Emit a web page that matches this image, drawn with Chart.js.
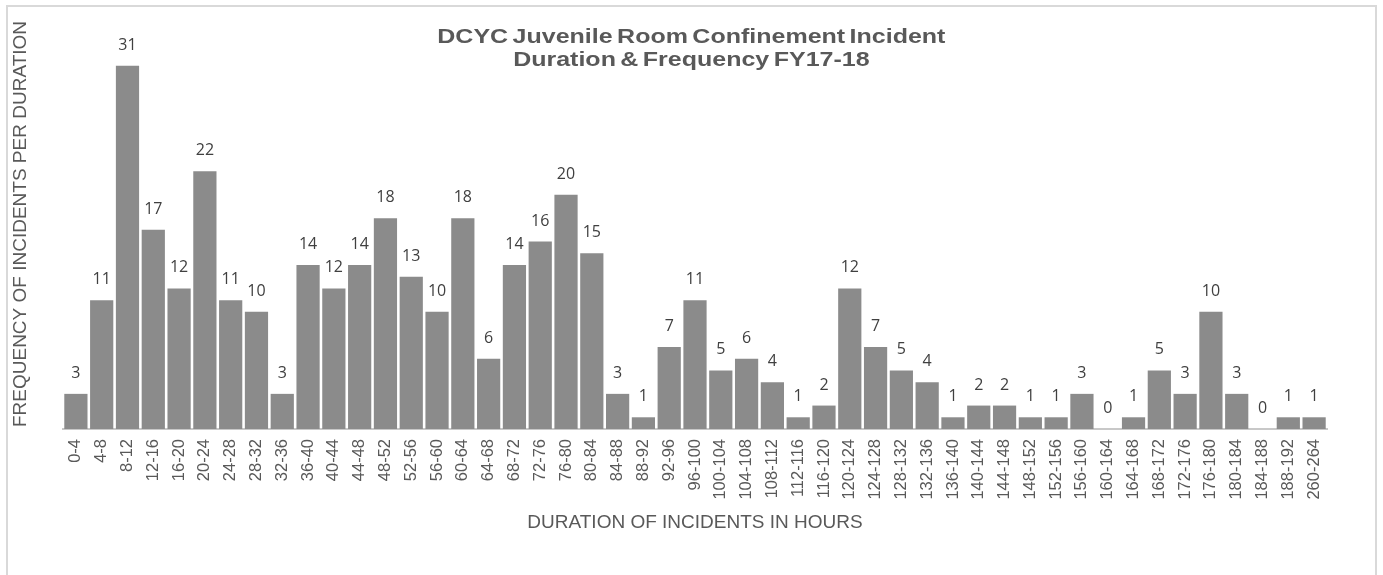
<!DOCTYPE html>
<html>
<head>
<meta charset="utf-8">
<script src="https://cdn.jsdelivr.net/npm/chart.js@4"></script>
<style>
  html, body { margin:0; padding:0; background:#fff; overflow:hidden; }
  #wrap { position:relative; width:1383px; height:575px; }
  #frame { position:absolute; left:6px; top:5px; width:1371px; height:620px; border:2px solid #d9d9d9; box-sizing:border-box; pointer-events:none; }
  #title { position:absolute; left:0; top:25px; width:1383px; text-align:center; font:bold 20px 'Liberation Sans', Arial, sans-serif; line-height:23px; color:#595959; transform:scaleX(1.25); transform-origin:692px 0; word-spacing:-2px; }
  canvas { position:absolute; left:0; top:0; }
</style>
</head>
<body>
<div id="wrap">
  <canvas id="chartDuration" width="1383" height="575"></canvas>
  <div id="frame"></div>
  <div id="title">DCYC Juvenile Room Confinement Incident<br>Duration &amp; Frequency FY17-18</div>
</div>
<script>
const durations = ['0-4','4-8','8-12','12-16','16-20','20-24','24-28','28-32','32-36','36-40',
  '40-44','44-48','48-52','52-56','56-60','60-64','64-68','68-72','72-76','76-80',
  '80-84','84-88','88-92','92-96','96-100','100-104','104-108','108-112','112-116','116-120',
  '120-124','124-128','128-132','132-136','136-140','140-144','144-148','148-152','152-156','156-160',
  '160-164','164-168','168-172','172-176','176-180','180-184','184-188','188-192','260-264'];
const incidents = [3,11,31,17,12,22,11,10,3,14,
  12,14,18,13,10,18,6,14,16,20,
  15,3,1,7,11,5,6,4,1,2,
  12,7,5,4,1,2,2,1,1,3,
  0,1,5,3,10,3,0,1,1];

(function initChart(){
  const grey = '#595959';
  const barGrey = '#8b8b8b';

  const valueLabels = {
    id: 'valueLabels',
    afterDatasetsDraw(chart) {
      const c = chart.ctx;
      const meta = chart.getDatasetMeta(0);
      c.save();
      c.font = '16px "Open Sans", sans-serif';
      c.fillStyle = '#404040';
      c.textAlign = 'center';
      c.textBaseline = 'alphabetic';
      meta.data.forEach((bar, i) => {
        c.fillText(String(incidents[i]), bar.x, bar.y - 16);
      });
      c.restore();
    }
  };

  new Chart(document.getElementById('chartDuration'), {
    type: 'bar',
    data: { labels: durations, datasets: [{ label: 'Incidents', data: incidents, backgroundColor: barGrey, categoryPercentage: 1, barPercentage: 0.9 }] },
    options: {
      responsive: false,
      animation: false,
      layout: { padding: { left: 0, right: 56, top: 19, bottom: 0 } },
      plugins: { legend: { display: false }, tooltip: { enabled: false } },
      scales: {
        x: {
          grid: { display: false, drawTicks: false },
          border: { display: true, color: '#c8c8c8', width: 2 },
          ticks: { color: grey, font: { family: 'Liberation Sans', size: 16.5 }, minRotation: 90, maxRotation: 90, padding: 10, autoSkip: false },
          title: { display: true, text: 'DURATION OF INCIDENTS IN HOURS', color: grey, font: { family: 'Liberation Sans', size: 19 }, padding: { top: 0, bottom: 41 } },
          afterFit: s => { s.height = 146; }
        },
        y: {
          min: 0, max: 35,
          grid: { display: false },
          border: { display: false },
          ticks: { display: false },
          title: { display: true, text: 'FREQUENCY OF INCIDENTS PER DURATION', color: grey, font: { family: 'Liberation Sans', size: 19 }, padding: { top: 9, bottom: 0 } },
          afterFit: s => { s.width = 63; }
        }
      }
    },
    plugins: [valueLabels]
  });
})();
</script>
</body>
</html>
